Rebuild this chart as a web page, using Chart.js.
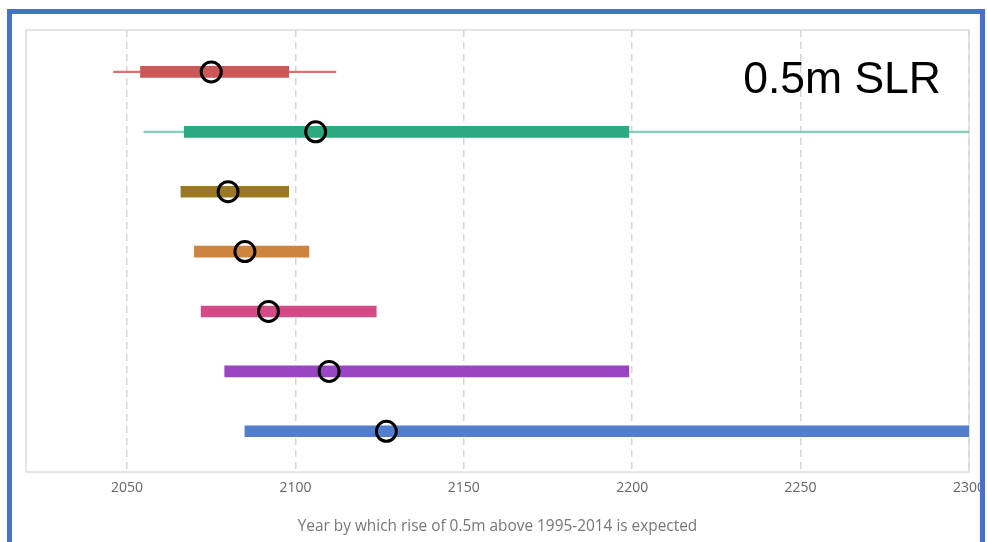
<!DOCTYPE html>
<html>
<head>
<meta charset="utf-8">
<script src="https://cdn.jsdelivr.net/npm/chart.js@4.4.1/dist/chart.umd.min.js"></script>
<style>
  body { margin: 0; background: #fff; overflow: hidden; }
  #wrap { position: relative; width: 987px; height: 542px; }
  #frame {
    position: absolute; left: 7px; top: 9px; width: 978px; height: 600px;
    border: 5px solid #4472c4; box-sizing: border-box; pointer-events: none;
  }
</style>
</head>
<body>
<div id="wrap">
  <canvas id="chart" width="987" height="542"></canvas>
  <div id="frame"></div>
</div>
<script>
// filas (de arriba a abajo) y años estimados
const rows = [1, 2, 3, 4, 5, 6, 7];
const likelyLow  = [2054, 2067, 2066, 2070, 2072, 2079, 2085];
const likelyHigh = [2098, 2199, 2098, 2104, 2124, 2199, 2300];
const wideLow    = [2046, 2055, null, null, null, null, null];
const wideHigh   = [2112, 2300, null, null, null, null, null];
const medianYear = [2075, 2106, 2080, 2085, 2092, 2110, 2127];
const xTicks = [2050, 2100, 2150, 2200, 2250, 2300];

const rowColors = ['#cd5656', '#2ca882', '#997a22', '#cc843e', '#d44a86', '#9a45c2', '#527ecd'];
const thinColors = ['rgba(224,96,96,0.9)', 'rgba(110,200,172,0.85)', '#997a22', '#cc843e', '#d44a86', '#9a45c2', '#527ecd'];

// borde del area de graficado y etiqueta
const frameAndLabel = {
    id: 'frameAndLabel',
    beforeDatasetsDraw(chart) {
        const { ctx, chartArea } = chart;
        ctx.save();
        ctx.strokeStyle = '#dcdcdc';
        ctx.lineWidth = 1.5;
        ctx.strokeRect(chartArea.left, chartArea.top, chartArea.right - chartArea.left, chartArea.bottom - chartArea.top);
        ctx.restore();
    },
    afterDraw(chart) {
        const { ctx, chartArea } = chart;
        ctx.save();
        ctx.fillStyle = '#000';
        ctx.font = '44.5px "Liberation Sans", Arial, sans-serif';
        ctx.textAlign = 'right';
        ctx.textBaseline = 'alphabetic';
        ctx.fillText('0.5m SLR', chartArea.right - 28, chartArea.top + 63);
        ctx.restore();
    }
};

const ctx = document.getElementById('chart').getContext('2d');
const chart = new Chart(ctx, {
    type: 'bar',
    data: {
        datasets: [
            {
                type: 'scatter',
                data: rows.map((r, i) => ({ x: medianYear[i], y: r })),
                pointRadius: 10,
                pointHoverRadius: 10,
                pointBorderWidth: 3,
                pointBackgroundColor: 'rgba(0,0,0,0)',
                pointBorderColor: '#000',
                order: 0
            },
            {
                indexAxis: 'y',
                data: rows.map((r, i) => ({ x: [likelyLow[i], likelyHigh[i]], y: r })),
                backgroundColor: rowColors,
                barThickness: 11,
                grouped: false,
                order: 1
            },
            {
                indexAxis: 'y',
                data: rows.map((r, i) => ({ x: wideLow[i] === null ? null : [wideLow[i], wideHigh[i]], y: r })),
                backgroundColor: thinColors,
                barThickness: 1.5,
                grouped: false,
                order: 2
            }
        ]
    },
    options: {
        responsive: false,
        animation: false,
        indexAxis: 'y',
        layout: { padding: { left: 26, top: 30, right: 18, bottom: 0 } },
        plugins: {
            legend: { display: false },
            tooltip: { enabled: false }
        },
        scales: {
            x: {
                type: 'linear',
                position: 'bottom',
                min: 2020,
                max: 2300,
                afterBuildTicks: (axis) => { axis.ticks = xTicks.map(v => ({ value: v })); },
                afterFit: (axis) => {
                    axis.height = 70;
                    axis.paddingLeft = 0;
                    axis.paddingRight = 0;
                },
                grid: {
                    color: '#d6d6d6',
                    lineWidth: 1.5,
                    drawTicks: false
                },
                border: { display: false, dash: [7, 5] },
                ticks: {
                    color: '#666',
                    padding: 8,
                    font: { family: '"Open Sans"', size: 14 },
                    callback: (v) => String(v)
                },
                title: {
                    display: true,
                    text: 'Year by which rise of 0.5m above 1995-2014 is expected',
                    color: '#777',
                    font: { family: '"Open Sans"', size: 15.4 },
                    padding: { top: 20, bottom: 6 }
                }
            },
            y: {
                type: 'linear',
                display: false,
                offset: false,
                min: 0.3,
                max: 7.68,
                reverse: true
            }
        }
    },
    plugins: [frameAndLabel]
});
</script>
</body>
</html>
